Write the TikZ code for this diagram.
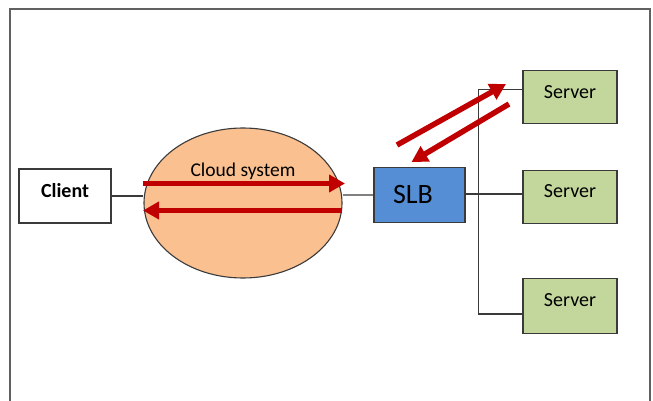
\documentclass[tikz,border=0pt]{standalone}
\usepackage{fontspec}
\setmainfont{Carlito}
\usetikzlibrary{arrows.meta,shapes.geometric}
\definecolor{cloudfill}{HTML}{FAC090}
\definecolor{slbfill}{HTML}{558ED5}
\definecolor{srvfill}{HTML}{C3D69B}
\definecolor{flowred}{HTML}{C00000}
\definecolor{edge}{HTML}{3A3A3A}
\tikzset{
  box/.style={draw=edge, line width=1.3pt, minimum width=92pt, minimum height=54pt, inner sep=0pt},
  srvbox/.style={box, fill=srvfill, minimum width=94pt},
  link/.style={draw=edge, line width=1.1pt},
  flow/.style={draw=flowred, line width=5.5pt, -{Triangle[length=16pt,width=17pt]}},
  lbl/.style={font=\fontsize{20}{24}\selectfont, inner sep=0pt}
}
\begin{document}
\begin{tikzpicture}[x=1pt, y=-1pt]
\useasboundingbox (0,0) rectangle (653,401);
% outer frame, open at the bottom
\draw[draw=edge!80, line width=1.6pt] (10,402) -- (10,9) -- (650,9) -- (650,402);

% nodes
\node[box, fill=white] (client) at (65,196) {};
\node[lbl, font=\fontsize{20}{24}\selectfont\bfseries] (clienttxt) at (65,191) {Client};
\node[ellipse, draw=edge, line width=1.1pt, fill=cloudfill, minimum width=198pt, minimum height=150pt, inner sep=0pt] (cloud) at (243,203) {};
\node[lbl, font=\fontsize{19.5}{24}\selectfont] (cloudtxt) at (243,171) {Cloud system};
\node[box, fill=slbfill, minimum width=91pt, minimum height=55pt] (slb) at (419.5,195) {};
\node[lbl, font=\fontsize{28}{32}\selectfont] (slbtxt) at (413,195) {SLB};
\node[srvbox, minimum height=53pt] (s1) at (570,97.3) {};
\node[lbl] (s1txt) at (570,92.5) {Server};
\node[srvbox, minimum height=53pt] (s2) at (570,197.3) {};
\node[lbl] (s2txt) at (570,191) {Server};
\node[srvbox, minimum height=54.6pt] (s3) at (570,306) {};
\node[lbl] (s3txt) at (570,300) {Server};

% plain connections
\draw[link] (client.east) -- (client.east -| cloud.west);
\draw[link, draw=gray] (cloud.east |- slb.west) -- (slb.west);
\coordinate (bt) at (478.5,89.3);
\coordinate (bb) at (478.5,314);
\draw[link] (bt -| s1.west) -- (bt) -- (bb) -- (bb -| s3.west);
\draw[link] (slb.east) ++(0,-1) -- ++(58,0) coordinate (s2in);

% request / response flows
\coordinate (c1a) at (143,183.5);
\coordinate (c1b) at (345,183.5);
\coordinate (c2a) at (342,210.5);
\coordinate (c2b) at (143,210.5);
\coordinate (d1a) at (397,145);
\coordinate (d1b) at (506,84);
\coordinate (d2a) at (509,104);
\coordinate (d2b) at (411.5,162);
\draw[flow] (c1a) -- (c1b);
\draw[flow] (c2a) -- (c2b);
\draw[flow] (d1a) -- (d1b);
\draw[flow] (d2a) -- (d2b);
\end{tikzpicture}
\end{document}
